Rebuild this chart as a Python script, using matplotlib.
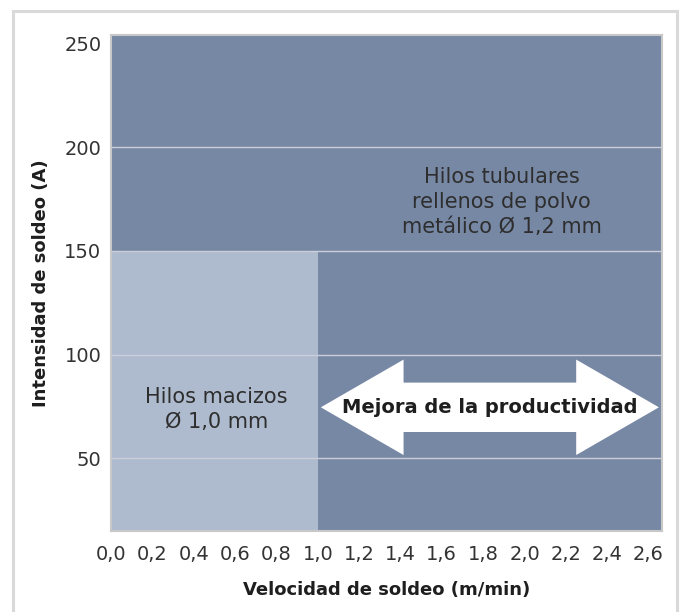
import matplotlib
matplotlib.use("Agg")
import matplotlib.pyplot as plt
from matplotlib.patches import Rectangle, Polygon

plt.rcParams['font.family'] = ['DejaVu Sans']

# ---- data ----
x_ticks = [0.0, 0.2, 0.4, 0.6, 0.8, 1.0, 1.2, 1.4, 1.6, 1.8, 2.0, 2.2, 2.4, 2.6]
x_tick_labels = ["0,0", "0,2", "0,4", "0,6", "0,8", "1,0", "1,2", "1,4", "1,6", "1,8",
                 "2,0", "2,2", "2,4", "2,6"]
y_ticks = [50, 100, 150, 200, 250]
y_tick_labels = ["50", "100", "150", "200", "250"]
grid_values = [50, 100, 150, 200]

# regions: (x start, x end, y start, y end)
region_names = ["Hilos macizos", "Tubulares (alta intensidad)", "Tubulares (alta velocidad)"]
region_x0 = [0.0, 0.0, 1.0]
region_x1 = [1.0, 2.7, 2.7]
region_y0 = [0, 150, 0]
region_y1 = [150, 260, 150]
region_colors = ["#aebbcf", "#7788a5", "#7788a5"]

label_small = "Hilos macizos\nØ 1,0 mm"
label_small_pos = (0.51, 73.5)
label_big = "Hilos tubulares\nrellenos de polvo\nmetálico Ø 1,2 mm"
label_big_pos = (1.89, 173.5)

arrow_text = "Mejora de la productividad"
arrow_x_start = 1.015
arrow_x_end = 2.65
arrow_y = 74.6
arrow_shaft_half = 11.9
arrow_head_half = 23.0
arrow_head_len = 0.40

x_lim = (0.0, 2.665)
y_lim = (15, 254)

# ---- figure ----
fig = plt.figure(figsize=(6.84, 6.12), dpi=100)
fig.patch.set_facecolor("white")

# outer frame
frame = Rectangle((13 / 684, -0.05), (677 - 13) / 684, 1.05 - 11 / 612,
                  transform=fig.transFigure, fill=False, edgecolor="#d9d9d9",
                  linewidth=2.2)
fig.patches.append(frame)

ax = fig.add_axes([111 / 684, 1 - 531 / 612, (662 - 111) / 684, (531 - 35) / 612])

for x0, x1, y0, y1, c in zip(region_x0, region_x1, region_y0, region_y1, region_colors):
    ax.bar(x0, y1 - y0, width=x1 - x0, bottom=y0, align="edge", color=c,
           linewidth=0, zorder=1)

for yv in grid_values:
    ax.axhline(yv, color="#c9ced8", linewidth=1.0, zorder=2)

# double arrow
xs, xe, yc = arrow_x_start, arrow_x_end, arrow_y
sh, hh, hl = arrow_shaft_half, arrow_head_half, arrow_head_len
pts = [
    (xs, yc), (xs + hl, yc + hh), (xs + hl, yc + sh), (xe - hl, yc + sh),
    (xe - hl, yc + hh), (xe, yc), (xe - hl, yc - hh), (xe - hl, yc - sh),
    (xs + hl, yc - sh), (xs + hl, yc - hh),
]
ax.add_patch(Polygon(pts, closed=True, facecolor="white", edgecolor="none", zorder=3))
ax.text((xs + xe) / 2, yc, arrow_text, ha="center", va="center", fontsize=14,
        fontweight="bold", color="#1e1e1e", zorder=4)

ax.text(*label_small_pos, label_small, ha="center", va="center", fontsize=15,
        color="#2e2e2e", linespacing=1.3, zorder=4)
ax.text(*label_big_pos, label_big, ha="center", va="center", fontsize=15,
        color="#2e2e2e", linespacing=1.3, zorder=4)

ax.set_xlim(*x_lim)
ax.set_ylim(*y_lim)
ax.set_xticks(x_ticks)
ax.set_xticklabels(x_tick_labels)
ax.set_yticks(y_ticks)
ax.set_yticklabels(y_tick_labels)
ax.tick_params(axis="both", length=0, labelsize=14, labelcolor="#333333")
ax.tick_params(axis="x", pad=10)
ax.tick_params(axis="y", pad=7)

for s in ax.spines.values():
    s.set_color("#c8c8c8")
    s.set_linewidth(1.5)

ax.set_xlabel("Velocidad de soldeo (m/min)", fontsize=13, fontweight="bold",
              color="#1e1e1e", labelpad=12)
ax.set_ylabel("Intensidad de soldeo (A)", fontsize=13, fontweight="bold",
              color="#1e1e1e", labelpad=10)

fig.savefig("out.png", dpi=100, facecolor="white")
